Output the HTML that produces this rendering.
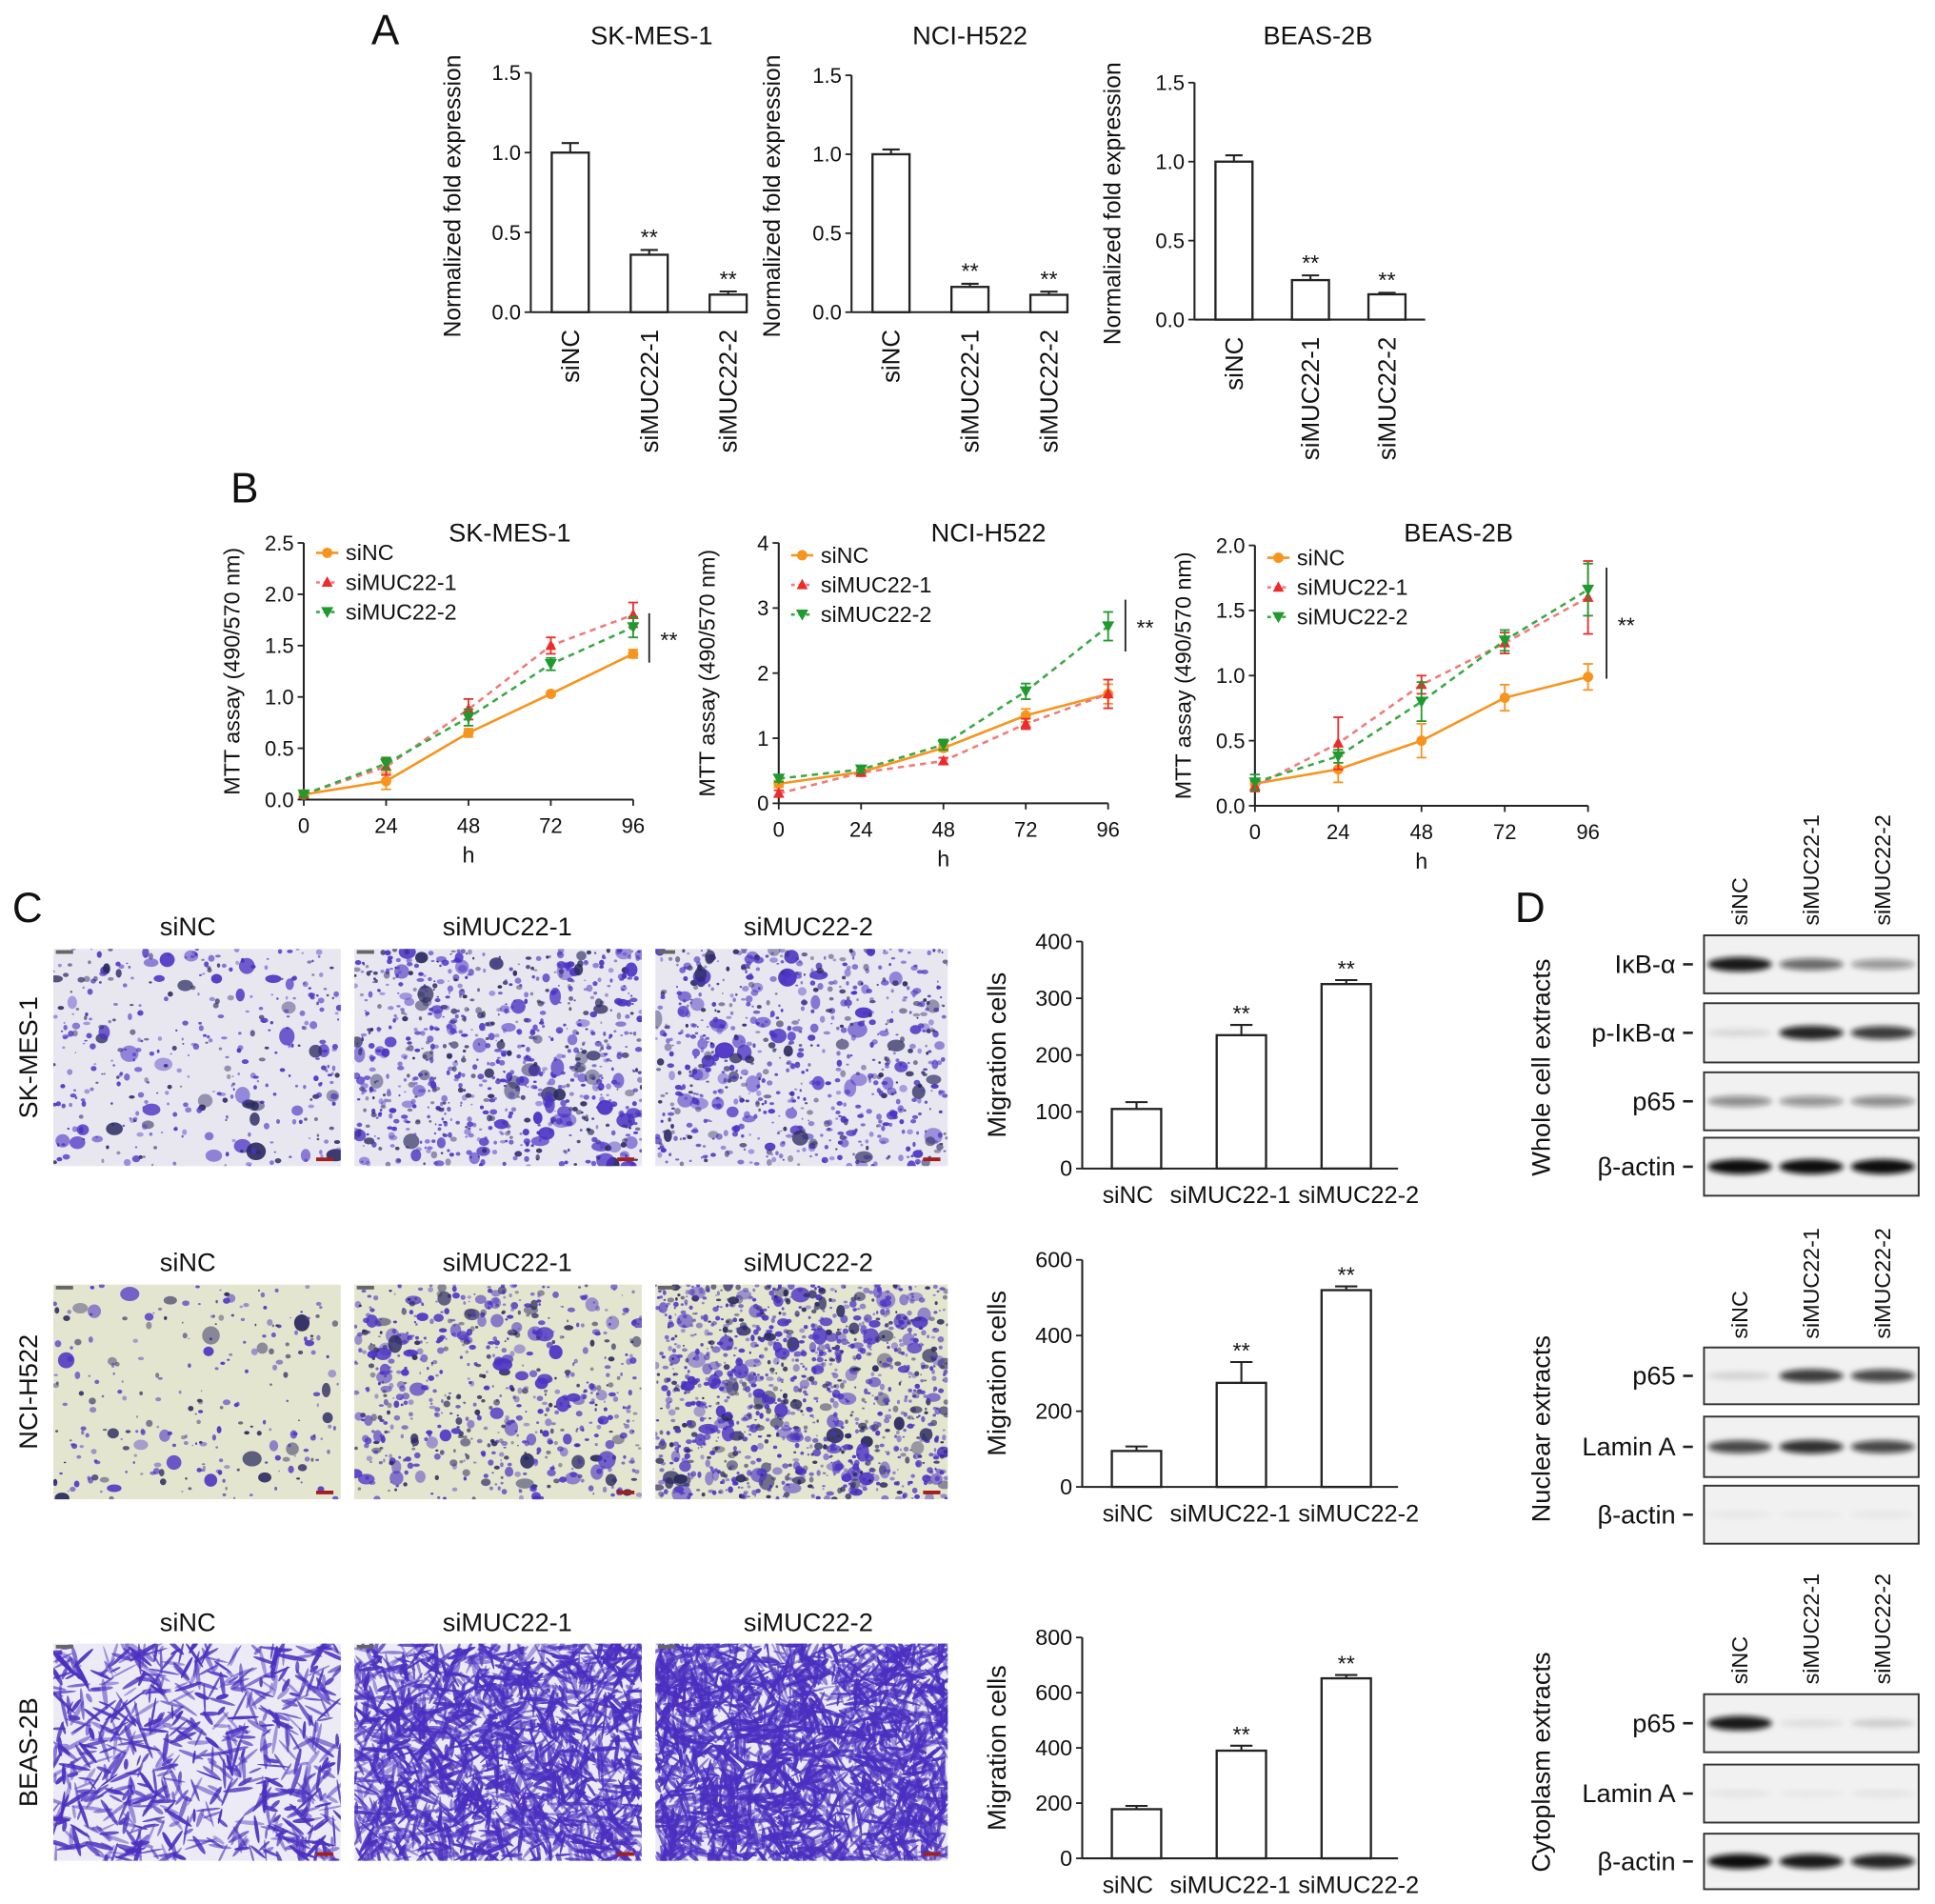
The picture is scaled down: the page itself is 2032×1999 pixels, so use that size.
<!DOCTYPE html>
<html><head><meta charset="utf-8"><style>
html,body{margin:0;padding:0;background:#fff;}
svg{display:block;font-family:"Liberation Sans",sans-serif;}
</style></head><body>
<svg id="fig" width="2032" height="1999" viewBox="0 0 1568 1543" xmlns="http://www.w3.org/2000/svg">
<defs><filter id="blur" x="-20%" y="-200%" width="140%" height="500%"><feGaussianBlur stdDeviation="2.2"/></filter></defs>
</svg>
<script>
// ---------- data ----------
const qCats=['siNC','siMUC22-1','siMUC22-2'];
const qSkmes=[1.0,0.36,0.11];
const qSkmesErr=[0.06,0.03,0.02];
const qH522=[1.0,0.16,0.11];
const qH522Err=[0.03,0.02,0.02];
const qBeas=[1.0,0.25,0.16];
const qBeasErr=[0.04,0.03,0.01];
const qTicks=[0,0.5,1.0,1.5];
const qTickLabels=['0.0','0.5','1.0','1.5'];

const hours=[0,24,48,72,96];
const mttSeries=['siNC','siMUC22-1','siMUC22-2'];
const skNC=[0.05,0.18,0.65,1.03,1.42];
const skNCerr=[0.02,0.08,0.04,0.02,0.04];
const skM1=[0.05,0.32,0.88,1.5,1.8];
const skM1err=[0.02,0.08,0.1,0.08,0.12];
const skM2=[0.05,0.35,0.8,1.32,1.68];
const skM2err=[0.02,0.06,0.08,0.06,0.1];
const skTicks=[0,0.5,1.0,1.5,2.0,2.5];
const skTickLabels=['0.0','0.5','1.0','1.5','2.0','2.5'];
const hNC=[0.3,0.48,0.85,1.35,1.68];
const hNCerr=[0.05,0.04,0.05,0.1,0.15];
const hM1=[0.15,0.47,0.65,1.22,1.68];
const hM1err=[0.05,0.04,0.05,0.08,0.22];
const hM2=[0.38,0.52,0.9,1.72,2.72];
const hM2err=[0.05,0.05,0.08,0.12,0.22];
const hTicks=[0,1,2,3,4];
const hTickLabels=['0','1','2','3','4'];
const bNC=[0.17,0.28,0.5,0.83,0.99];
const bNCerr=[0.04,0.1,0.13,0.1,0.1];
const bM1=[0.15,0.48,0.93,1.25,1.6];
const bM1err=[0.04,0.2,0.07,0.08,0.28];
const bM2=[0.18,0.38,0.8,1.27,1.66];
const bM2err=[0.06,0.05,0.15,0.08,0.2];
const bTicks=[0,0.5,1.0,1.5,2.0];
const bTickLabels=['0.0','0.5','1.0','1.5','2.0'];
const hourLabels=['0','24','48','72','96'];

const migCats=['siNC','siMUC22-1','siMUC22-2'];
const migSk=[105,235,325];
const migSkErr=[12,18,7];
const migSkTicks=[0,100,200,300,400];
const migH=[95,275,520];
const migHErr=[12,55,10];
const migHTicks=[0,200,400,600];
const migB=[178,390,652];
const migBErr=[12,18,12];
const migBTicks=[0,200,400,600,800];

const lanes=['siNC','siMUC22-1','siMUC22-2'];
const wbIkb=[0.95,0.6,0.4];
const wbPIkb=[0.1,0.9,0.8];
const wbP65=[0.45,0.42,0.45];
const wbActin=[1,1,1];
const nucP65=[0.12,0.8,0.75];
const nucLamin=[0.75,0.85,0.75];
const nucActin=[0.04,0.03,0.04];
const cytP65=[0.95,0.08,0.15];
const cytLamin=[0.05,0.04,0.05];
const cytActin=[1,0.95,0.9];

// ---------- helpers ----------
const NS='http://www.w3.org/2000/svg';
const svg=document.getElementById('fig');
function mk(tag,attrs,parent){const e=document.createElementNS(NS,tag);for(const k in attrs)e.setAttribute(k,attrs[k]);(parent||svg).appendChild(e);return e;}
function nm(e,name,inter){


return e;}
function txt(x,y,s,size,anchor,parent,rot,name){
  const a={x:x,y:y,'font-size':size,'text-anchor':anchor||'middle',fill:'#111'};
  if(rot!==undefined)a.transform='rotate('+rot+' '+x+' '+y+')';
  const t=mk('text',a,parent);t.textContent=s;nm(t,name||'label',false);return t;}
function linear(d0,d1,r0,r1){return v=>r0+(v-d0)/(d1-d0)*(r1-r0);}

// ---------- Panel A ----------
txt(312,36,'A',34,'middle',svg,undefined,'panel-a-label');
function qBar(cfg,vals,errs){
  const g=nm(mk('g',{}),'qpcr-chart-'+cfg.id,false);
  const y=linear(0,1.5,cfg.y0,cfg.y1);
  txt(cfg.tx,36,cfg.title,21,'middle',g,undefined,'chart-title');
  txt(cfg.ytx,cfg.y0-94,'Normalized fold expression',19,'middle',g,-90,'y-axis-title');
  nm(mk('line',{x1:cfg.ax,y1:cfg.y1,x2:cfg.ax,y2:cfg.y0,stroke:'#222','stroke-width':1.6},g),'y-axis',false);
  nm(mk('line',{x1:cfg.ax,y1:cfg.y0,x2:cfg.ax+cfg.w,y2:cfg.y0,stroke:'#222','stroke-width':1.6},g),'x-axis',false);
  qTicks.forEach((t,i)=>{nm(mk('line',{x1:cfg.ax-5,y1:y(t),x2:cfg.ax,y2:y(t),stroke:'#222','stroke-width':1.4},g),'y-tick',false);
    txt(cfg.ax-8,y(t)+6,qTickLabels[i],17,'end',g,undefined,'y-tick-label');});
  vals.forEach((v,i)=>{const cx=cfg.ax+32+cfg.step*i;
    nm(mk('line',{x1:cx,y1:y(v+errs[i]),x2:cx,y2:y(v),stroke:'#222','stroke-width':1.6},g),'error-bar',false);
    nm(mk('line',{x1:cx-7,y1:y(v+errs[i]),x2:cx+7,y2:y(v+errs[i]),stroke:'#222','stroke-width':1.6},g),'error-cap',false);
    nm(mk('rect',{x:cx-15,y:y(v),width:30,height:cfg.y0-y(v),fill:'#fff',stroke:'#222','stroke-width':1.8},g),'bar-'+qCats[i],false);
    if(i>0)txt(cx,y(v+errs[i])-4,'**',18,'middle',g,undefined,'significance-stars');
    txt(cx+7,cfg.y0+14,qCats[i],20,'end',g,-90,'x-tick-label');});
}
qBar({id:'skmes1',title:'SK-MES-1',tx:528,ytx:373,ax:430,y0:253,y1:59,w:175,step:64},qSkmes,qSkmesErr);
qBar({id:'ncih522',title:'NCI-H522',tx:786,ytx:632,ax:690,y0:253,y1:61,w:175,step:64},qH522,qH522Err);
qBar({id:'beas2b',title:'BEAS-2B',tx:1068,ytx:908,ax:968,y0:259,y1:67,w:187,step:62},qBeas,qBeasErr);

// ---------- Panel B ----------
txt(198,407,'B',34,'middle',svg,undefined,'panel-b-label');
const sColors=['#f7941d','#ee2b2b','#1f9a2f'];
const sLine=['#f7941d','#f27a7a','#3aa845'];
function marker(g,type,x,y,c){
  let e;
  if(type===0)e=mk('circle',{cx:x,cy:y,r:4.2,fill:c},g);
  else if(type===1)e=mk('polygon',{points:(x)+','+(y-5)+' '+(x-4.5)+','+(y+3.5)+' '+(x+4.5)+','+(y+3.5),fill:c},g);
  else e=mk('polygon',{points:(x)+','+(y+5)+' '+(x-5)+','+(y-4)+' '+(x+5)+','+(y-4),fill:c},g);
  nm(e,'point-'+mttSeries[type],false);return e;}
function mtt(cfg,series,errs,ticks,tickLabels){
  const g=nm(mk('g',{}),'mtt-chart-'+cfg.id,false);
  const x=linear(0,96,cfg.ax,cfg.ax+cfg.w);
  const y=linear(0,ticks[ticks.length-1],cfg.y0,cfg.y1);
  txt(cfg.tx,439,cfg.title,21,'middle',g,undefined,'chart-title');
  txt(cfg.ax-52,(cfg.y0+cfg.y1)/2,'MTT assay (490/570 nm)',18,'middle',g,-90,'y-axis-title');
  nm(mk('line',{x1:cfg.ax,y1:cfg.y1,x2:cfg.ax,y2:cfg.y0,stroke:'#222','stroke-width':1.6},g),'y-axis',false);
  nm(mk('line',{x1:cfg.ax,y1:cfg.y0,x2:cfg.ax+cfg.w,y2:cfg.y0,stroke:'#222','stroke-width':1.6},g),'x-axis',false);
  ticks.forEach((t,i)=>{nm(mk('line',{x1:cfg.ax-5,y1:y(t),x2:cfg.ax,y2:y(t),stroke:'#222','stroke-width':1.4},g),'y-tick',false);
    txt(cfg.ax-8,y(t)+6,tickLabels[i],17,'end',g,undefined,'y-tick-label');});
  hours.forEach((h,i)=>{nm(mk('line',{x1:x(h),y1:cfg.y0,x2:x(h),y2:cfg.y0+5,stroke:'#222','stroke-width':1.4},g),'x-tick',false);
    txt(x(h),cfg.y0+27,hourLabels[i],17,'middle',g,undefined,'x-tick-label');});
  txt(cfg.ax+(cfg.w/2),cfg.y0+51,'h',18,'middle',g,undefined,'x-axis-title');
  series.forEach((s,k)=>{
    const pts=s.map((v,i)=>x(hours[i])+','+y(v)).join(' ');
    const pl=mk('polyline',{points:pts,fill:'none',stroke:sLine[k],'stroke-width':2,'stroke-dasharray':k===0?'none':'5,4'},g);
    nm(pl,'line-'+mttSeries[k],false);
    s.forEach((v,i)=>{const e=errs[k][i];
      nm(mk('line',{x1:x(hours[i]),y1:y(v-e),x2:x(hours[i]),y2:y(v+e),stroke:sColors[k],'stroke-width':1.4},g),'error-bar',false);
      nm(mk('line',{x1:x(hours[i])-4,y1:y(v+e),x2:x(hours[i])+4,y2:y(v+e),stroke:sColors[k],'stroke-width':1.4},g),'error-cap',false);
      nm(mk('line',{x1:x(hours[i])-4,y1:y(v-e),x2:x(hours[i])+4,y2:y(v-e),stroke:sColors[k],'stroke-width':1.4},g),'error-cap',false);
      marker(g,k,x(hours[i]),y(v),sColors[k]);});
  });
  const lg=nm(mk('g',{}),'legend',false);g.appendChild(lg);
  mttSeries.forEach((s,k)=>{const ly=cfg.ly+k*24;
    nm(mk('line',{x1:cfg.ax+10,y1:ly,x2:cfg.ax+28,y2:ly,stroke:sLine[k],'stroke-width':2,'stroke-dasharray':k===0?'none':'3,3'},lg),'legend-line',false);
    marker(lg,k,cfg.ax+19,ly,sColors[k]);
    txt(cfg.ax+34,ly+6,s,18,'start',lg,undefined,'legend-entry');});
  nm(mk('line',{x1:cfg.sx,y1:cfg.s0,x2:cfg.sx,y2:cfg.s1,stroke:'#222','stroke-width':1.4},g),'significance-bracket',false);
  txt(cfg.sx+16,(cfg.s0+cfg.s1)/2+8,'**',18,'middle',g,undefined,'significance-stars');
}
mtt({id:'skmes1',title:'SK-MES-1',tx:413,ax:246,w:267,y0:648,y1:440,ly:448,sx:526,s0:497,s1:537},[skNC,skM1,skM2],[skNCerr,skM1err,skM2err],skTicks,skTickLabels);
mtt({id:'ncih522',title:'NCI-H522',tx:801,ax:631,w:267,y0:651,y1:440,ly:450,sx:912,s0:486,s1:528},[hNC,hM1,hM2],[hNCerr,hM1err,hM2err],hTicks,hTickLabels);
mtt({id:'beas2b',title:'BEAS-2B',tx:1182,ax:1017,w:270,y0:653,y1:442,ly:452,sx:1302,s0:460,s1:550},[bNC,bM1,bM2],[bNCerr,bM1err,bM2err],bTicks,bTickLabels);

// ---------- Panel C ----------
txt(22,747,'C',34,'middle',svg,undefined,'panel-c-label');
let seed=12345;function rnd(){seed=(seed*16807)%2147483647;return seed/2147483647;}
const rowsY=[[769,945],[1041,1215],[1332,1508]];
const colsX=[[43,276],[287,520],[531,768]];
const rowNames=['SK-MES-1','NCI-H522','BEAS-2B'];
const headerY=[758,1030,1322];
const headerX=[152,411,655];
const bgs=['#e8e7f0','#e4e5cf','#ecebf5'];
const dens=[[400,900,800],[250,700,1300],[700,1700,2200]];
rowsY.forEach((ry,r)=>{
  txt(30,(ry[0]+ry[1])/2,rowNames[r],21,'middle',svg,-90,'row-label-'+rowNames[r].toLowerCase());
  colsX.forEach((cx,c)=>{
    txt(headerX[c],headerY[r],qCats[c],21,'middle',svg,undefined,'column-header');
    const g=nm(mk('g',{}),'micrograph-'+rowNames[r].toLowerCase()+'-'+qCats[c].toLowerCase(),false);
    const w=cx[1]-cx[0],h=ry[1]-ry[0];
    const cp=mk('clipPath',{id:'cp'+r+c},g);mk('rect',{x:cx[0],y:ry[0],width:w,height:h},cp);
    mk('rect',{x:cx[0],y:ry[0],width:w,height:h,fill:bgs[r]},g);
    const inner=mk('g',{'clip-path':'url(#cp'+r+c+')'},g);
    for(let i=0;i<dens[r][c];i++){
      const px=cx[0]+rnd()*w,py=ry[0]+rnd()*h;
      const op=(0.4+rnd()*0.55).toFixed(2);
      if(r===2){const a=rnd()*180,l=4+rnd()*10;
        mk('ellipse',{cx:px,cy:py,rx:l,ry:0.8+rnd()*1.2,fill:'#4a2fc0','fill-opacity':op,transform:'rotate('+a+' '+px+' '+py+')'},inner);}
      else{const big=rnd()<0.15;const s=big?(2.5+rnd()*4):(0.8+rnd()*1.8);
        mk('ellipse',{cx:px,cy:py,rx:s*(0.7+rnd()*0.6),ry:s*(0.6+rnd()*0.6),fill:rnd()<0.3?'#2a2a60':'#4b32c4','fill-opacity':op},inner);}
    }
    mk('rect',{x:cx[1]-20,y:ry[1]-7,width:14,height:3,fill:'#a02020'},g);
    mk('rect',{x:cx[0]+2,y:ry[0]+1,width:14,height:3,fill:'#666'},g);
  });
});
function migChart(cfg,vals,errs,ticks){
  const g=nm(mk('g',{}),'migration-chart-'+cfg.id,false);
  const y=linear(0,ticks[ticks.length-1],cfg.y0,cfg.y1);
  txt(cfg.ax-62,(cfg.y0+cfg.y1)/2,'Migration cells',21,'middle',g,-90,'y-axis-title');
  nm(mk('line',{x1:cfg.ax,y1:cfg.y1,x2:cfg.ax,y2:cfg.y0,stroke:'#222','stroke-width':1.6},g),'y-axis',false);
  nm(mk('line',{x1:cfg.ax,y1:cfg.y0,x2:cfg.ax+256,y2:cfg.y0,stroke:'#222','stroke-width':1.6},g),'x-axis',false);
  ticks.forEach(t=>{nm(mk('line',{x1:cfg.ax-5,y1:y(t),x2:cfg.ax,y2:y(t),stroke:'#222','stroke-width':1.4},g),'y-tick',false);
    txt(cfg.ax-8,y(t)+6,String(t),18,'end',g,undefined,'y-tick-label');});
  const lx=[914,997,1101];
  vals.forEach((v,i)=>{const cx=cfg.ax+44+85*i;
    nm(mk('line',{x1:cx,y1:y(v+errs[i]),x2:cx,y2:y(v),stroke:'#222','stroke-width':1.6},g),'error-bar',false);
    nm(mk('line',{x1:cx-9,y1:y(v+errs[i]),x2:cx+9,y2:y(v+errs[i]),stroke:'#222','stroke-width':1.6},g),'error-cap',false);
    nm(mk('rect',{x:cx-20,y:y(v),width:40,height:cfg.y0-y(v),fill:'#fff',stroke:'#222','stroke-width':1.8},g),'bar-'+migCats[i],false);
    if(i>0)txt(cx,y(v+errs[i])-3,'**',18,'middle',g,undefined,'significance-stars');
    const t=txt(lx[i],cfg.y0+28,migCats[i],19,'middle',g,undefined,'x-tick-label');
    if(i>0){t.setAttribute('textLength','98');t.setAttribute('lengthAdjust','spacingAndGlyphs');}});
}
migChart({id:'skmes1',ax:877,y0:947,y1:763},migSk,migSkErr,migSkTicks);
migChart({id:'ncih522',ax:877,y0:1205,y1:1021},migH,migHErr,migHTicks);
migChart({id:'beas2b',ax:877,y0:1506,y1:1327},migB,migBErr,migBTicks);

// ---------- Panel D ----------
txt(1240,747,'D',34,'middle',svg,undefined,'panel-d-label');
const laneX=[1410,1468,1526];
function blot(section,headerBottom,rows,sideLabel,sideY){
  const g=nm(mk('g',{}),'blot-'+section,false);
  lanes.forEach((l,i)=>txt(laneX[i]+6,headerBottom,l,18,'start',g,-90,'lane-label'));
  txt(1256,sideY,sideLabel,21,'middle',g,-90,'blot-section-label');
  rows.forEach(rw=>{
    nm(mk('rect',{x:1381,y:rw.y0,width:174,height:rw.y1-rw.y0,fill:'#f1f1f1',stroke:'#333','stroke-width':1.5},g),'blot-'+rw.name,false);
    const cy=(rw.y0+rw.y1)/2;
    txt(1358,cy+7,rw.name,21,'end',g,undefined,'band-label');
    mk('line',{x1:1364,y1:cy,x2:1372,y2:cy,stroke:'#222','stroke-width':2},g);
    rw.vals.forEach((v,i)=>{
      const e=mk('ellipse',{cx:laneX[i],cy:cy,rx:26,ry:3+v*3,fill:'#111','fill-opacity':Math.min(1,v).toFixed(2),filter:'url(#blur)'},g);
      nm(e,'band',false);});
  });
}
blot('whole-cell',750,[{name:'IκB-α',y0:758,y1:805,vals:wbIkb},{name:'p-IκB-α',y0:813,y1:861,vals:wbPIkb},{name:'p65',y0:869,y1:916,vals:wbP65},{name:'β-actin',y0:922,y1:969,vals:wbActin}],'Whole cell extracts',865);
blot('nuclear',1085,[{name:'p65',y0:1092,y1:1138,vals:nucP65},{name:'Lamin A',y0:1148,y1:1197,vals:nucLamin},{name:'β-actin',y0:1204,y1:1251,vals:nucActin}],'Nuclear extracts',1158);
blot('cytoplasm',1365,[{name:'p65',y0:1373,y1:1420,vals:cytP65},{name:'Lamin A',y0:1430,y1:1477,vals:cytLamin},{name:'β-actin',y0:1486,y1:1531,vals:cytActin}],'Cytoplasm extracts',1428);
</script>
</body></html>
